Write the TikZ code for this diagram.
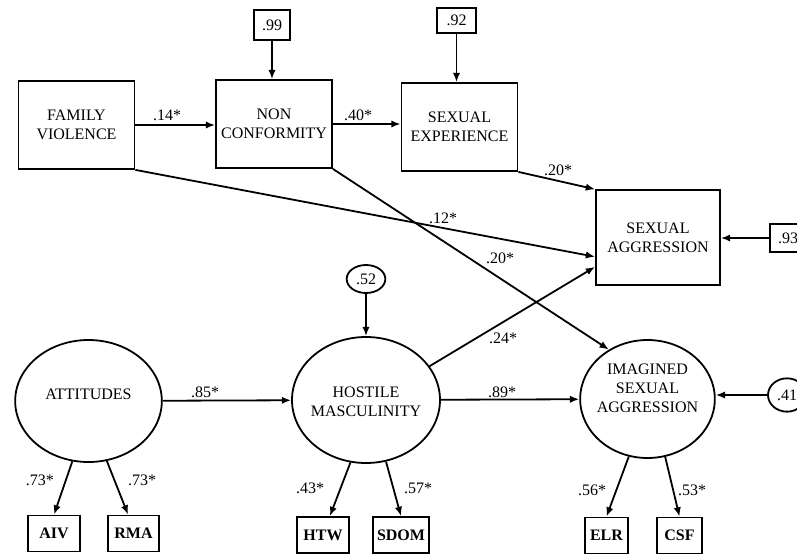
\documentclass[tikz,border=0pt]{standalone}
\usepackage{fontspec}
\setmainfont{Liberation Serif}
\usetikzlibrary{arrows.meta,shapes.geometric}
\begin{document}
\begin{tikzpicture}[x=0.75pt,y=-0.75pt,line width=1.35pt,
          >={Latex[length=7pt,width=5.5pt]},
          every node/.style={inner sep=1pt,font=\fontsize{12}{14.3}\selectfont},
          construct/.style={draw,align=center,minimum width=87pt,minimum height=66pt},
          latent/.style={draw,ellipse},
          resid/.style={draw,minimum width=27pt,minimum height=21pt},
          indic/.style={draw,minimum height=27pt,minimum width=#1,
             font=\fontsize{12}{14}\selectfont\bfseries}]
          \useasboundingbox(0,0)rectangle(797,554);
          % observed constructs
          \node[construct](fv)at(76.5,125){FAMILY\\VIOLENCE};
          \node[construct](nc)at(274,124){NON\\CONFORMITY};
          \node[construct](se)at(459.5,127){SEXUAL\\EXPERIENCE};
          \node[construct,minimum width=93pt,minimum height=71pt](sa)at(658,237.5){SEXUAL\\AGGRESSION};
          \node[resid,minimum height=22.5pt](r99)at(272,25){.99};
          \node[resid,minimum width=29pt,minimum height=19pt](r92)at(456.5,20.5){.92};
          \node[resid](r93)at(788,238){.93};
          % latent variables
          \node[latent,minimum width=110pt,minimum height=91.5pt,
             label={[yshift=5pt]center:ATTITUDES}](att)at(88.5,401){};
          \node[latent,minimum width=111pt,minimum height=94.5pt,
             label={[align=center,yshift=-1.5pt]center:HOSTILE\\MASCULINITY}](hm)at(366,400){};
          \node[latent,minimum width=101pt,minimum height=88.5pt,
             label={[align=center,yshift=8pt]center:IMAGINED\\SEXUAL\\AGGRESSION}](isa)at(647.5,399){};
          \node[latent,minimum width=29pt,minimum height=21pt](r52)at(366,279){.52};
          \node[latent,minimum width=28.5pt,minimum height=25pt](r41)at(787,395){.41};
          % indicators
          \node[indic=39pt](aiv)at(54,533.5){AIV};
          \node[indic=38pt](rma)at(133.5,533.5){RMA};
          \node[indic=39pt](htw)at(323,535){HTW};
          \node[indic=42pt](sdom)at(401,535){SDOM};
          \node[indic=32pt](elr)at(606.5,535.5){ELR};
          \node[indic=34pt](csf)at(679.5,535.5){CSF};
          % paths
          \draw[->](fv.east)--(nc.west|-fv.east);
          \draw[->](nc.east)--(se.west|-nc.east);
          \draw[->](r99)--(r99|-nc.north);
          \draw[->](r92)--(r92|-se.north);
          \draw[->](se.south east)--(sa.north west);
          \draw[->](fv.south east)--(sa.197);
          \draw[->](nc.south east)--(isa.128);
          \draw[->](hm.28)--(sa.205);
          \draw[->](r93)--(r93-|sa.east);
          \draw[->](r52)--(hm);
          \draw[->](att)--(hm);
          \draw[->](hm)--(isa);
          \draw[->](r41)--(r41-|isa.east);
          \draw[->](att.255)--(aiv.north);
          \draw[->](att.287)--(rma.106);
          \draw[->](hm.256)--(htw.70);
          \draw[->](hm.288)--(sdom.north);
          \draw[->](isa.252)--(elr.north);
          \draw[->](isa.287)--(csf.north);
          % coefficients
          \foreach \n/\p/\t in {b14/{(167,115)}/.14*,b40/{(358,115)}/.40*,
             b20a/{(558,170)}/.20*,b12/{(443,218)}/.12*,b20b/{(500,258)}/.20*,
             b24/{(503,338)}/.24*,b85/{(205,392)}/.85*,b89/{(502,392)}/.89*,
             b73a/{(40,480)}/.73*,b73b/{(142,480)}/.73*,b43/{(310,488)}/.43*,
             b57/{(418,488)}/.57*,b56/{(592,490)}/.56*,b53/{(692,490)}/.53*}
            \node(\n)at\p{\t};
        \end{tikzpicture}
\end{document}
